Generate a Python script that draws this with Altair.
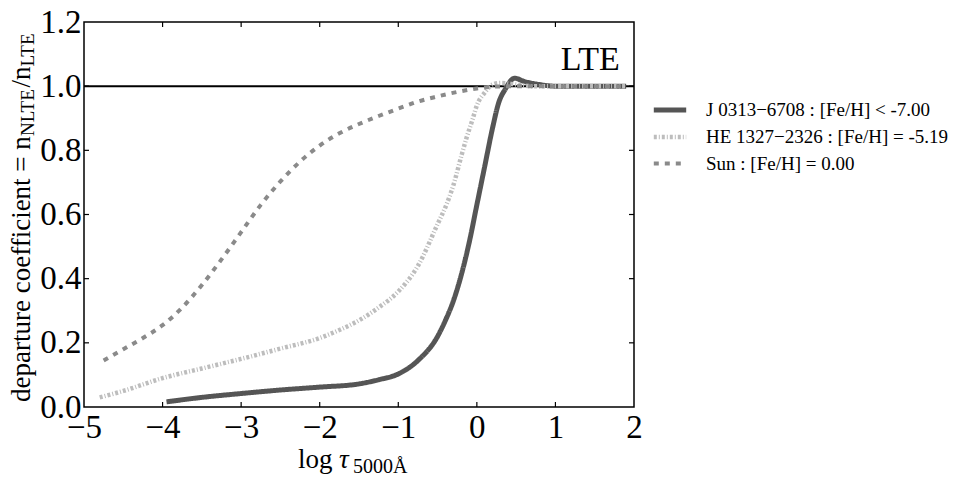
import altair as alt
import pandas as pd

SERIF = "Liberation Serif"

series_names = [
    "J 0313−6708 : [Fe/H] < -7.00",
    "HE 1327−2326 : [Fe/H] = -5.19",
    "Sun : [Fe/H] = 0.00",
]
series_colors = ["#555555", "#bdbdbd", "#8a8a8a"]
series_dashes = [[1, 0], [3, 2, 1, 2], [5, 6]]
series_widths = [5, 4, 5]

j0313_x = [-3.95, -3.5, -3.0, -2.5, -2.0, -1.5, -1.25, -1.0, -0.75, -0.5, -0.4, -0.3,
           -0.2, -0.1, 0.0, 0.1, 0.2, 0.28, 0.36, 0.48, 0.6, 0.8, 1.0, 1.3, 1.6, 1.9]
j0313_y = [0.016, 0.03, 0.042, 0.053, 0.062, 0.072, 0.085, 0.103, 0.145, 0.22, 0.27, 0.33,
           0.41, 0.51, 0.63, 0.75, 0.87, 0.95, 0.99, 1.025, 1.015, 1.005, 1.0, 1.0, 1.0, 1.0]

he1327_x = [-4.8, -4.5, -4.0, -3.5, -3.0, -2.5, -2.0, -1.75, -1.5, -1.25, -1.0, -0.75,
            -0.5, -0.38, -0.3, -0.2, -0.13, -0.05, 0.0, 0.1, 0.2, 0.3, 0.5, 0.7, 1.0, 1.5, 1.9]
he1327_y = [0.03, 0.05, 0.09, 0.12, 0.15, 0.182, 0.215, 0.24, 0.27, 0.31, 0.36, 0.44,
            0.57, 0.635, 0.69, 0.78, 0.84, 0.90, 0.94, 0.98, 1.005, 1.01, 1.005, 1.0, 1.0, 1.0, 1.0]

sun_x = [-4.75, -4.5, -4.25, -4.0, -3.75, -3.5, -3.25, -3.0, -2.75, -2.5, -2.25, -2.0,
         -1.75, -1.5, -1.25, -1.0, -0.75, -0.5, -0.25, 0.0, 0.25, 0.5, 1.0, 1.5, 1.9]
sun_y = [0.145, 0.18, 0.215, 0.255, 0.31, 0.38, 0.46, 0.545, 0.63, 0.703, 0.765, 0.815,
         0.853, 0.882, 0.907, 0.93, 0.952, 0.968, 0.982, 0.993, 0.999, 1.0, 1.0, 1.0, 1.0]

x_ticks = [-5, -4, -3, -2, -1, 0, 1, 2]
y_ticks = [0.0, 0.2, 0.4, 0.6, 0.8, 1.0, 1.2]
x_inner = [-4, -3, -2, -1, 0, 1]
y_inner = [0.2, 0.4, 0.6, 0.8, 1.0]

W, H = 550, 385

rows = []
for name, xs, ys in [(series_names[0], j0313_x, j0313_y),
                     (series_names[1], he1327_x, he1327_y),
                     (series_names[2], sun_x, sun_y)]:
    for a, b in zip(xs, ys):
        rows.append({"series": name, "x": a, "y": b})
df = pd.DataFrame(rows)

xscale = alt.Scale(domain=[-5, 2], nice=False, zero=False)
yscale = alt.Scale(domain=[0, 1.2], nice=False)

xaxis = alt.Axis(values=x_ticks, ticks=False, tickSize=0, domain=False, grid=False,
                 labelFont=SERIF, labelFontSize=33, labelColor="black",
                 labelPadding=4, labelFlush=False, title=None, format="d")
yaxis = alt.Axis(values=y_ticks, ticks=False, tickSize=0, domain=False, grid=False,
                 labelFont=SERIF, labelFontSize=33, labelColor="black",
                 labelPadding=3, labelFlush=False, title=None, format=".1f")

lte_line = alt.Chart(pd.DataFrame({"y": [1.0]})).mark_rule(
    color="black", strokeWidth=2).encode(
    y=alt.Y("y:Q", scale=yscale, axis=yaxis))

leg = alt.Legend(title=None, labelFont=SERIF, labelFontSize=19, labelLimit=400,
                 labelColor="black", labelOffset=20, symbolType="M-1.2,0H1.2",
                 symbolSize=729, rowPadding=1)

lines = alt.Chart(df).mark_line(interpolate="monotone", strokeCap="butt").encode(
    x=alt.X("x:Q", scale=xscale, axis=xaxis),
    y=alt.Y("y:Q", scale=yscale, axis=yaxis),
    color=alt.Color("series:N", scale=alt.Scale(domain=series_names, range=series_colors),
                    legend=leg),
    strokeDash=alt.StrokeDash("series:N", scale=alt.Scale(domain=series_names, range=series_dashes),
                              legend=leg),
    strokeWidth=alt.StrokeWidth("series:N", scale=alt.Scale(domain=series_names, range=series_widths),
                                legend=leg),
)

lte_text = alt.Chart(pd.DataFrame({"x": [1.82], "y": [1.05], "t": ["LTE"]})).mark_text(
    align="right", baseline="alphabetic", font=SERIF, fontSize=34, color="black").encode(
    x=alt.X("x:Q", scale=xscale), y=alt.Y("y:Q", scale=yscale), text="t:N")

tx = pd.DataFrame({"t": x_inner})
ty = pd.DataFrame({"t": y_inner})
tick_b = alt.Chart(tx).mark_rule(color="black", strokeWidth=1.2).encode(
    x=alt.X("t:Q", scale=xscale), y=alt.value(H), y2=alt.value(H - 5))
tick_t = alt.Chart(tx).mark_rule(color="black", strokeWidth=1.2).encode(
    x=alt.X("t:Q", scale=xscale), y=alt.value(0), y2=alt.value(5))
tick_l = alt.Chart(ty).mark_rule(color="black", strokeWidth=1.2).encode(
    y=alt.Y("t:Q", scale=yscale), x=alt.value(0), x2=alt.value(5))
tick_r = alt.Chart(ty).mark_rule(color="black", strokeWidth=1.2).encode(
    y=alt.Y("t:Q", scale=yscale), x=alt.value(W), x2=alt.value(W - 5))


def label(text, px, py, size, angle=0, italic=False):
    return alt.Chart(pd.DataFrame({"t": [text]})).mark_text(
        align="left", baseline="alphabetic", font=SERIF, fontSize=size, color="black",
        angle=angle, fontStyle="italic" if italic else "normal").encode(
        x=alt.value(px), y=alt.value(py), text="t:N")


ytitle = [
    label("departure coefficient = n", -54, 380, 27, angle=270),
    label("NLTE", -50, 114, 19, angle=270),
    label("/n", -54, 65.5, 27, angle=270),
    label("LTE", -50, 44.5, 19, angle=270),
]
xtitle = [
    label("log", 214, 446, 27),
    label("τ", 255, 446, 27, italic=True),
    label("5000Å", 269, 451, 20),
]

chart = alt.layer(lte_line, lines, lte_text, tick_b, tick_t, tick_l, tick_r, *ytitle, *xtitle).properties(
    width=W, height=H,
    autosize=alt.AutoSizeParams(type="none"),
    padding={"left": 76, "top": 14, "right": 320, "bottom": 70},
).configure_view(stroke="black", strokeWidth=1.5).configure_legend(
    orient="none", legendX=570, legendY=72,
)

chart.save("out.html", embed_options={"renderer": "svg", "actions": False})
